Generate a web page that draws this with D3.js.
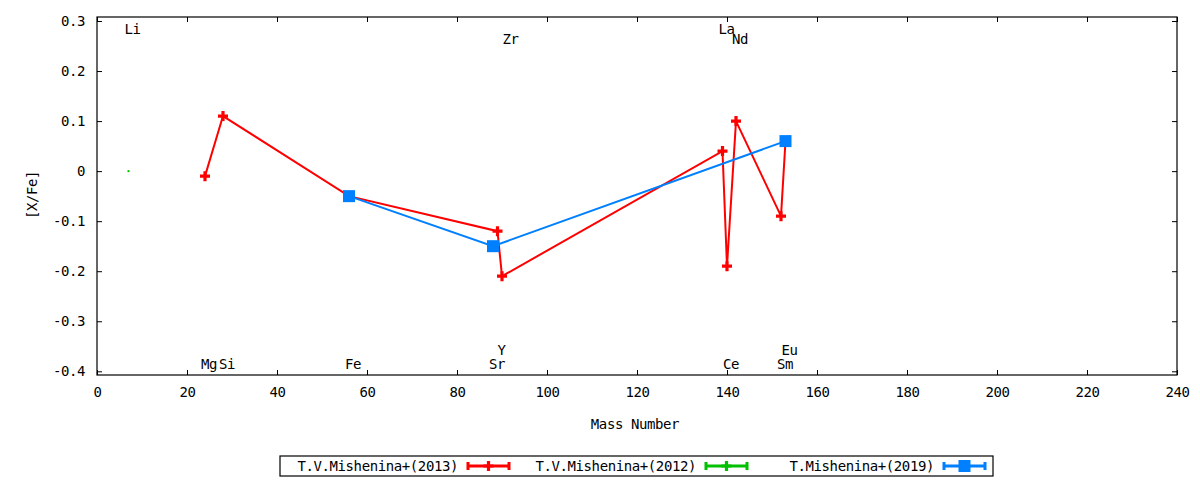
<!DOCTYPE html>
<html lang="en">
<head>
    <meta charset="UTF-8">
    <title>[X/Fe] vs Mass Number</title>
    <script src="https://cdn.jsdelivr.net/npm/d3@7"></script>
    <style>
        body { margin: 0; background: #fff; }
        svg text {
            font-family: "DejaVu Sans Mono", monospace;
            font-size: 14px;
            letter-spacing: -0.4px;
            fill: #000;
        }
    </style>
</head>
<body>
    <svg width="1200" height="480"></svg>

    <script>
        // element labels: name, mass number, label row (0/1 top, 2/3 bottom)
        const elemNames = ["Li", "Mg", "Si", "Fe", "Sr", "Y", "Zr", "La", "Ce", "Nd", "Sm", "Eu"];
        const elemMass  = [7, 24, 28, 56, 88, 89, 91, 139, 140, 142, 152, 153];
        const elemRow   = [0, 2, 2, 2, 2, 3, 1, 0, 2, 1, 2, 3];

        // T.V.Mishenina+(2013)
        const massA = [24, 28, 56, 89, 90, 139, 140, 142, 152, 153];
        const valA  = [-0.01, 0.11, -0.05, -0.12, -0.21, 0.04, -0.19, 0.10, -0.09, 0.06];
        // T.V.Mishenina+(2012)
        const massB = [7];
        const valB  = [0.0];
        // T.Mishenina+(2019)
        const massC = [56, 88, 153];
        const valC  = [-0.05, -0.15, 0.06];

        const seriesNames = ["T.V.Mishenina+(2013)", "T.V.Mishenina+(2012)", "T.Mishenina+(2019)"];
        const seriesColors = ["#ff0000", "#00c000", "#0080ff"];

        const xTicks = d3.range(0, 241, 20);
        const yTicks = [0.3, 0.2, 0.1, 0, -0.1, -0.2, -0.3, -0.4];

        const svg = d3.select("svg");
        const pLeft = 97, pRight = 1177, pTop = 17, pBottom = 375;

        const x = d3.scaleLinear().domain([0, 240]).range([pLeft, pRight]);
        const y = d3.scaleLinear().domain([-0.4074, 0.308]).range([pBottom, pTop]);

        const fmtY = d => d === 0 ? "0" : d3.format(".1f")(d).replace("−", "-");

        // axes with inward ticks, mirrored
        svg.append("g")
            .attr("transform", `translate(0,${pBottom})`)
            .call(d3.axisBottom(x).tickValues(xTicks).tickSize(-5).tickPadding(12).tickFormat(d3.format("d")))
            .call(g => g.select(".domain").remove());
        svg.append("g")
            .attr("transform", `translate(0,${pTop})`)
            .call(d3.axisTop(x).tickValues(xTicks).tickSize(-5).tickFormat(""))
            .call(g => g.select(".domain").remove());
        svg.append("g")
            .attr("transform", `translate(${pLeft},0)`)
            .call(d3.axisLeft(y).tickValues(yTicks).tickSize(-5).tickPadding(12).tickFormat(fmtY))
            .call(g => g.select(".domain").remove());
        svg.append("g")
            .attr("transform", `translate(${pRight},0)`)
            .call(d3.axisRight(y).tickValues(yTicks).tickSize(-5).tickFormat(""))
            .call(g => g.select(".domain").remove());

        svg.selectAll(".tick line").attr("stroke", "#000");
        svg.selectAll(".tick text").style("font-size", "14px")
            .style("font-family", "'DejaVu Sans Mono', monospace").attr("fill", "#000");

        svg.append("rect")
            .attr("x", pLeft).attr("y", pTop)
            .attr("width", pRight - pLeft).attr("height", pBottom - pTop)
            .attr("fill", "none").attr("stroke", "#000").attr("stroke-width", 1.2);

        // axis titles
        svg.append("text")
            .attr("x", (pLeft + pRight) / 2 - 2).attr("y", 429)
            .attr("text-anchor", "middle")
            .text("Mass Number");
        svg.append("text")
            .attr("transform", "translate(37,195) rotate(-90)")
            .attr("text-anchor", "middle")
            .text("[X/Fe]");

        // element labels
        const rowY = [0.285, 0.265, -0.386, -0.358];
        svg.append("g").selectAll("text")
            .data(elemNames)
            .join("text")
            .attr("x", (d, i) => x(elemMass[i]) + 4)
            .attr("y", (d, i) => y(rowY[elemRow[i]]) + 5)
            .attr("text-anchor", "middle")
            .text(d => d);

        const line = d3.line().x(d => x(d[0])).y(d => y(d[1]));

        function plus(g, cx, cy, color) {
            g.append("path")
                .attr("d", `M${cx - 5},${cy}H${cx + 5}M${cx},${cy - 5}V${cy + 5}`)
                .attr("stroke", color).attr("stroke-width", 3.2).attr("fill", "none");
        }
        function square(g, cx, cy, color) {
            g.append("rect")
                .attr("x", cx - 6).attr("y", cy - 6)
                .attr("width", 12).attr("height", 12)
                .attr("fill", color);
        }

        // red series
        const ptsA = massA.map((m, i) => [m, valA[i]]);
        const gA = svg.append("g");
        gA.append("path").datum(ptsA).attr("d", line)
            .attr("fill", "none").attr("stroke", seriesColors[0]).attr("stroke-width", 2);
        ptsA.forEach(p => plus(gA, x(p[0]), y(p[1]), seriesColors[0]));

        // green series (single point)
        const gB = svg.append("g");
        massB.forEach((m, i) => {
            gB.append("rect")
                .attr("x", x(m) - 1).attr("y", y(valB[i]) - 1)
                .attr("width", 2).attr("height", 2)
                .attr("fill", seriesColors[1]);
        });

        // blue series
        const ptsC = massC.map((m, i) => [m, valC[i]]);
        const gC = svg.append("g");
        gC.append("path").datum(ptsC).attr("d", line)
            .attr("fill", "none").attr("stroke", seriesColors[2]).attr("stroke-width", 2);
        ptsC.forEach(p => square(gC, x(p[0]), y(p[1]), seriesColors[2]));

        // legend
        const lg = svg.append("g");
        lg.append("rect")
            .attr("x", 280).attr("y", 456).attr("width", 713).attr("height", 20)
            .attr("fill", "none").attr("stroke", "#000").attr("stroke-width", 1.2);
        const legendX = [467, 705, 943];
        seriesNames.forEach((name, i) => {
            const sx = legendX[i], sy = 466, c = seriesColors[i];
            lg.append("text")
                .attr("x", sx - 9).attr("y", sy + 5)
                .attr("text-anchor", "end")
                .text(name);
            lg.append("path")
                .attr("d", `M${sx},${sy}H${sx + 43}M${sx + 1},${sy - 4}V${sy + 4}M${sx + 42},${sy - 4}V${sy + 4}`)
                .attr("stroke", c).attr("stroke-width", 3).attr("fill", "none");
            if (i === 2) square(lg, sx + 21.5, sy, c);
            else plus(lg, sx + 21.5, sy, c);
        });
    </script>
</body>
</html>
